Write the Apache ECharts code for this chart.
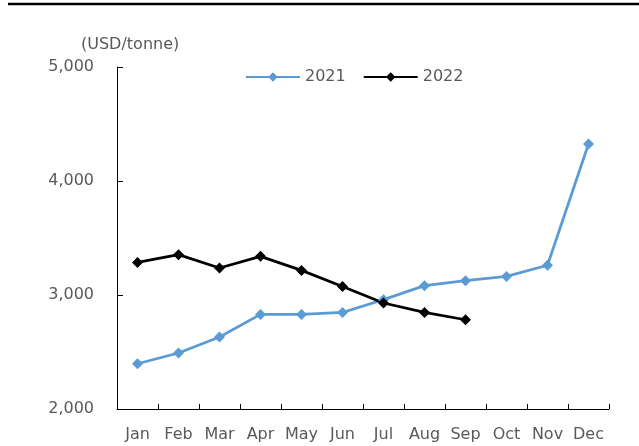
<!DOCTYPE html>
<html>
<head>
<meta charset="utf-8">
<script src="https://cdn.jsdelivr.net/npm/echarts@6/dist/echarts.min.js"></script>
<style>
html,body{margin:0;padding:0;background:#fff;}
#c{width:639px;height:446px;}
</style>
</head>
<body>
<div id="c"></div>
<script>
const months = ['Jan','Feb','Mar','Apr','May','Jun','Jul','Aug','Sep','Oct','Nov','Dec'];
const values2021 = [2397, 2491, 2632, 2830, 2830, 2847, 2959, 3082, 3126, 3163, 3261, 4325];
const values2022 = [3286, 3354, 3237, 3339, 3216, 3075, 2930, 2847, 2783];
const seriesNames = ['2021', '2022'];
const unitLabel = '(USD/tonne)';
const yTicks = [2000, 3000, 4000, 5000];

const FONT = 'DejaVu Sans';
const TXT = '#595959';
const chart = echarts.init(document.getElementById('c'), null, {renderer: 'canvas'});
chart.setOption({
  animation: false,
  backgroundColor: '#fff',
  textStyle: {fontFamily: FONT},
  title: {
    text: unitLabel,
    left: 76, top: 32,
    textStyle: {fontFamily: FONT, fontSize: 16, fontWeight: 'normal', color: TXT}
  },
  graphic: [{
    type: 'line',
    shape: {x1: 8, y1: 4, x2: 639, y2: 4},
    style: {stroke: '#000', lineWidth: 2.5}
  }],
  legend: {
    data: seriesNames,
    top: 64, left: 240,
    itemWidth: 54, itemHeight: 12, itemGap: 17,
    textStyle: {fontFamily: FONT, fontSize: 16, color: TXT}
  },
  grid: {left: 117, right: 30, top: 67, bottom: 37},
  xAxis: {
    type: 'category',
    data: months,
    boundaryGap: true,
    axisLine: {lineStyle: {color: '#000', width: 1}},
    axisTick: {show: true, inside: true, length: 5, interval: 0, lineStyle: {color: '#000'}},
    axisLabel: {interval: 0, margin: 18, fontFamily: FONT, fontSize: 16, color: TXT}
  },
  yAxis: {
    type: 'value',
    min: yTicks[0], max: yTicks[yTicks.length - 1], interval: 1000,
    axisLine: {show: true, lineStyle: {color: '#000', width: 1}},
    axisTick: {show: true, inside: true, length: 6, lineStyle: {color: '#000'}},
    splitLine: {show: false},
    axisLabel: {
      margin: 23, fontFamily: FONT, fontSize: 16, color: TXT,
      formatter: v => v.toLocaleString('en-US')
    }
  },
  series: [
    {
      name: seriesNames[0], type: 'line', data: values2021,
      symbol: 'diamond', symbolSize: 11,
      lineStyle: {color: '#5B9BD5', width: 2.75},
      itemStyle: {color: '#5B9BD5'}
    },
    {
      name: seriesNames[1], type: 'line', data: values2022,
      symbol: 'diamond', symbolSize: 11,
      lineStyle: {color: '#000', width: 2.75},
      itemStyle: {color: '#000'}
    }
  ]
});
</script>
</body>
</html>
